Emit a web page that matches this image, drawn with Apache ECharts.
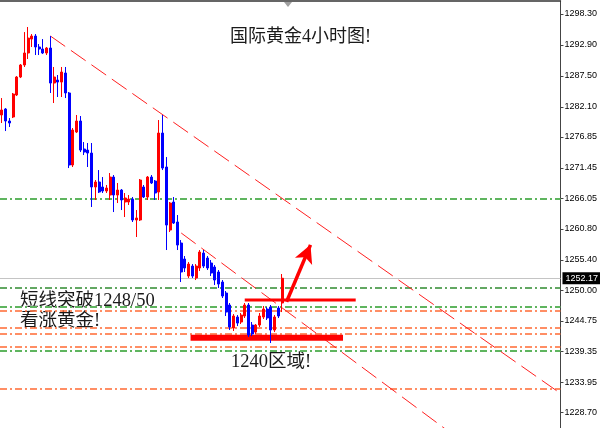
<!DOCTYPE html>
<html>
<head>
<meta charset="utf-8">
<script src="https://cdn.jsdelivr.net/npm/echarts@6/dist/echarts.min.js"></script>
<style>
html,body{margin:0;padding:0;background:#fff;}
#chart{width:600px;height:428px;}
</style>
</head>
<body>
<div id="chart"></div>
<script>
// ---- data ----
const open = [1280.67,1281.71,1279.62,1280.32,1284.16,1287.30,1289.40,1291.49,1293.93,1294.45,
1292.54,1292.19,1291.49,1292.36,1286.25,1286.77,1286.42,1288.00,1284.51,1271.94,
1277.70,1279.62,1274.73,1274.55,1274.03,1268.10,1268.97,1268.10,1267.40,1266.70,
1269.84,1266.70,1267.57,1265.48,1265.48,1266.00,1262.34,1262.34,1268.10,1266.35,
1269.84,1269.14,1267.22,1277.52,1271.59,1260.59,1265.48,1261.99,1258.32,1255.53,
1252.56,1254.30,1252.21,1253.96,1256.57,1255.70,1254.83,1254.13,1253.26,1251.51,
1249.59,1247.50,1243.48,1245.40,1244.53,1245.58,1247.50,1244.00,1242.78,1244.00,
1245.40,1246.80,1247.15,1243.13,1246.97,1247.85];
const close = [1281.54,1279.62,1279.27,1284.33,1287.30,1289.40,1291.49,1294.10,1294.45,1292.54,
1292.19,1291.49,1292.36,1286.25,1287.30,1286.42,1288.17,1284.51,1271.94,1278.05,
1279.62,1274.55,1274.20,1274.03,1268.10,1268.97,1267.22,1267.40,1267.92,1269.84,
1266.70,1267.57,1265.83,1266.18,1266.00,1262.34,1262.69,1269.32,1266.35,1269.84,
1268.80,1267.05,1277.52,1271.41,1261.46,1265.30,1261.81,1257.97,1253.26,1253.96,
1254.65,1252.56,1254.30,1256.75,1254.30,1253.96,1253.08,1251.86,1251.16,1249.07,
1246.27,1243.66,1245.58,1244.35,1245.75,1247.50,1242.26,1242.43,1244.00,1245.58,
1246.80,1245.23,1243.13,1245.40,1245.58,1252.17];
const low = [1279.27,1277.87,1278.57,1280.14,1283.98,1287.12,1289.05,1290.44,1292.54,1291.14,
1291.14,1291.31,1291.14,1284.51,1282.76,1283.81,1283.81,1283.63,1271.41,1271.59,
1277.52,1274.20,1273.68,1271.59,1264.61,1265.83,1267.05,1267.05,1267.05,1265.83,
1263.73,1265.30,1264.08,1262.86,1264.96,1261.99,1259.37,1262.16,1266.18,1265.83,
1268.62,1265.83,1265.83,1271.06,1257.10,1260.24,1261.64,1257.10,1251.51,1253.26,
1252.21,1252.21,1251.86,1253.43,1253.96,1253.61,1252.56,1250.99,1250.47,1248.72,
1245.58,1243.13,1242.96,1243.83,1244.18,1245.23,1241.91,1242.08,1242.43,1243.66,
1245.05,1244.88,1240.86,1242.78,1245.23,1246.27];
const high = [1283.63,1281.88,1280.14,1284.51,1287.47,1289.57,1295.15,1296.03,1294.80,1294.80,
1293.06,1293.93,1292.54,1294.45,1289.05,1287.65,1289.05,1289.05,1284.68,1278.40,
1280.67,1280.49,1275.95,1275.78,1275.78,1269.32,1271.06,1269.84,1268.45,1270.54,
1270.19,1268.80,1267.75,1267.05,1266.70,1266.35,1264.08,1269.49,1268.45,1270.02,
1270.19,1269.32,1279.79,1280.67,1273.33,1265.48,1266.35,1263.21,1258.84,1256.05,
1255.00,1254.65,1254.65,1257.10,1257.10,1256.05,1255.35,1254.48,1253.61,1251.86,
1249.94,1247.85,1245.92,1245.75,1246.10,1247.85,1247.85,1244.53,1244.18,1246.10,
1247.32,1247.15,1247.50,1245.75,1247.32,1252.91];
const barSlots = Array.from({length: 150}, (_, i) => String(i));
const yTicks = [1298.30,1292.90,1287.50,1282.10,1276.85,1271.45,1266.05,1260.80,1255.40,1250.00,1244.75,1239.35,1233.95,1228.70];
const currentPrice = 1252.17;
const greenLevels = [1266.05, 1247.19, 1239.52];
const darkGreenLevels = [1250.58];
const orangeLevels = [1246.50, 1243.48, 1242.43, 1240.22, 1232.89];
const trendLine1 = [[13, 1294.45], [149.5, 1232.07]];
const trendLine2 = [[48, 1260.07], [125, 1222.80]];
const supportBar = [[50.5, 1241.77], [91.3, 1241.77]];
const breakoutBar = [[65, 1248.37], [94.7, 1248.37]];
const arrowPath = [[76.2, 1248.07], [82.6, 1258.0]];
const yMin = 1226.03, yMax = 1300.57;

// ---- chart ----
const chart = echarts.init(document.getElementById('chart'), null, {renderer: 'canvas'});
const candles = open.map((o, i) => [o, close[i], low[i], high[i]]);
const dashDot = [7, 3, 2, 3];
const levelLines = [];
greenLevels.forEach(v => levelLines.push({yAxis: v, lineStyle: {color: '#5fb55f', width: 2, type: dashDot}}));
darkGreenLevels.forEach(v => levelLines.push({yAxis: v, lineStyle: {color: '#2f8a2f', width: 1.5, type: dashDot}}));
orangeLevels.forEach(v => levelLines.push({yAxis: v, lineStyle: {color: '#ff6a33', width: 1.5, type: dashDot}}));
levelLines.push({
  yAxis: currentPrice,
  lineStyle: {color: '#c4c4c4', width: 1, type: 'solid'},
  label: {show: true, position: 'end', distance: 2, formatter: () => currentPrice.toFixed(2),
    backgroundColor: '#000', color: '#fff', fontSize: 9, fontFamily: 'Liberation Sans',
    padding: [2, 3, 1, 3]}
});

const cjkFont = '"Liberation Serif", "Noto Sans CJK SC"';

chart.setOption({
  animation: false,
  backgroundColor: '#fff',
  grid: {left: 0, right: 39, top: 1, bottom: 0, containLabel: false},
  xAxis: [
    {type: 'category', data: barSlots, boundaryGap: true, show: false},
    {type: 'value', min: -0.5, max: 149.5, position: 'top',
      axisLine: {show: true, onZero: false, lineStyle: {color: '#333', width: 1.5}},
      axisTick: {show: false}, axisLabel: {show: false}, splitLine: {show: false}}
  ],
  yAxis: {
    type: 'value', position: 'right', min: yMin, max: yMax,
    axisLine: {show: true, onZero: false, lineStyle: {color: '#444', width: 1}},
    axisTick: {show: true, length: 3, customValues: yTicks, lineStyle: {color: '#444'}},
    axisLabel: {customValues: yTicks, formatter: v => Number(v).toFixed(2), color: '#000',
      fontSize: 9, fontFamily: 'Liberation Sans', margin: 4},
    splitLine: {show: false}
  },
  series: [
    {
      type: 'candlestick', xAxisIndex: 0, yAxisIndex: 0, z: 5,
      data: candles, barWidth: 2.5,
      itemStyle: {color: '#ff0000', color0: '#0000ff', borderColor: '#ff0000', borderColor0: '#0000ff', borderWidth: 1},
      markLine: {silent: true, symbol: ['none', 'none'], label: {show: false}, z: 1, data: levelLines}
    },
    {type: 'line', xAxisIndex: 1, data: trendLine1, symbol: 'none', z: 3,
      lineStyle: {color: '#ff2020', width: 1, type: [18, 7]}},
    {type: 'line', xAxisIndex: 1, data: trendLine2, symbol: 'none', z: 3,
      lineStyle: {color: '#ff2020', width: 1, type: [18, 7]}},
    {type: 'line', xAxisIndex: 1, data: supportBar, symbol: 'none', z: 4,
      lineStyle: {color: '#ff0000', width: 6, cap: 'butt'}},
    {type: 'line', xAxisIndex: 1, data: breakoutBar, symbol: 'none', z: 6,
      lineStyle: {color: '#ff0000', width: 3, cap: 'butt'},
      markLine: {silent: true, symbol: ['none', 'arrow'], symbolSize: [14, 18], label: {show: false},
        lineStyle: {color: '#ff0000', width: 3.5, type: 'solid'},
        data: [[{coord: arrowPath[0]}, {coord: arrowPath[1]}]]}}
  ],
  graphic: [
    {type: 'polygon', shape: {points: [[284, 2], [292, 2], [288, 7]]}, style: {fill: '#a0a0a0'}},
    {type: 'text', left: 230, top: 28, style: {text: '国际黄金4小时图!', font: '18px ' + cjkFont, fill: '#1a1a1a'}},
    {type: 'text', left: 20, top: 292, style: {text: '短线突破1248/50', font: '18.5px ' + cjkFont, fill: '#1a1a1a'}},
    {type: 'text', left: 20, top: 312, style: {text: '看涨黄金!', font: '18.5px ' + cjkFont, fill: '#1a1a1a'}},
    {type: 'text', left: 231, top: 353, style: {text: '1240区域!', font: '18.5px ' + cjkFont, fill: '#1a1a1a'}}
  ]
});
</script>
</body>
</html>
